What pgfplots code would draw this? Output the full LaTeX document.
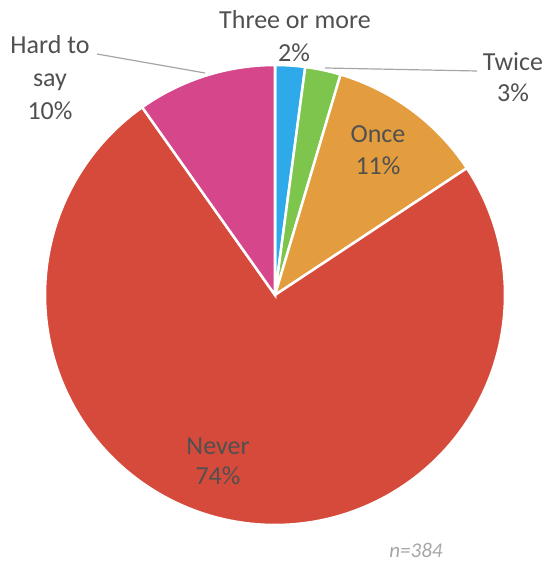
\documentclass[border=0pt]{standalone}
\usepackage{pgfplots}
\pgfplotsset{compat=1.18}
\usepgfplotslibrary{polar}
\usepackage{fontspec}
\setmainfont{Carlito}
\definecolor{cblue}{HTML}{2EAAEA}
\definecolor{cgreen}{HTML}{7DC54D}
\definecolor{corange}{HTML}{E39C3E}
\definecolor{cred}{HTML}{D64A3B}
\definecolor{cpink}{HTML}{D5468A}
\definecolor{ctext}{HTML}{505050}
\definecolor{cline}{HTML}{A6A6A6}
% shares in percent (clockwise from 12 o'clock)
\def\vA{2.1}  % Three or more
\def\vB{2.5}  % Twice
\def\vC{11.1} % Once
\def\vD{74.5} % Never
\def\vE{9.8}  % Hard to say
\pgfmathsetmacro\aA{90}
\pgfmathsetmacro\aB{90-3.6*\vA}
\pgfmathsetmacro\aC{\aB-3.6*\vB}
\pgfmathsetmacro\aD{\aC-3.6*\vC}
\pgfmathsetmacro\aE{\aD-3.6*\vD}
\pgfmathsetmacro\aF{\aE-3.6*\vE}
\begin{document}
\begin{tikzpicture}[x=1pt,y=1pt]
\useasboundingbox (0,0) rectangle (546,565);
\begin{polaraxis}[at={(275pt,270pt)}, anchor=center, hide axis,
  width=460pt, height=460pt, scale only axis,
  xmin=0, xmax=360, ymin=0, ymax=1, clip=false]
\addplot[fill=cblue, draw=white, line width=2.5pt, domain=\aB:\aA, samples=20] {1} -- (axis cs:0,0) -- cycle;
\addplot[fill=cgreen, draw=white, line width=2.5pt, domain=\aC:\aB, samples=20] {1} -- (axis cs:0,0) -- cycle;
\addplot[fill=corange, draw=white, line width=2.5pt, domain=\aD:\aC, samples=60] {1} -- (axis cs:0,0) -- cycle;
\addplot[fill=cred, draw=white, line width=2.5pt, domain=\aE:\aD, samples=200] {1} -- (axis cs:0,0) -- cycle;
\addplot[fill=cpink, draw=white, line width=2.5pt, domain=\aF:\aE, samples=40] {1} -- (axis cs:0,0) -- cycle;
\end{polaraxis}
\tikzset{lab/.style={font=\fontsize{26}{30}\selectfont, text=ctext, anchor=base, inner sep=0pt}}
\node[lab] at (295,536) {Three or more};
\node[lab] at (294,503) {2\%};
\node[lab] at (513,494) {Twice};
\node[lab] at (513,463) {3\%};
\node[lab] at (50,511) {Hard to};
\node[lab] at (50,478) {say};
\node[lab] at (50,445) {10\%};
\node[lab] at (378,422) {Once};
\node[lab] at (378,390) {11\%};
\node[lab] at (218,110) {Never};
\node[lab] at (218,80) {74\%};
\draw[cline, line width=1.2pt] (325,497) -- (477,494);
\draw[cline, line width=1.2pt] (97,511) -- (205,492);
\node[font=\fontsize{21}{25}\selectfont\itshape, text=cline, anchor=base, inner sep=0pt] at (416,8) {n=384};
\end{tikzpicture}
\end{document}
